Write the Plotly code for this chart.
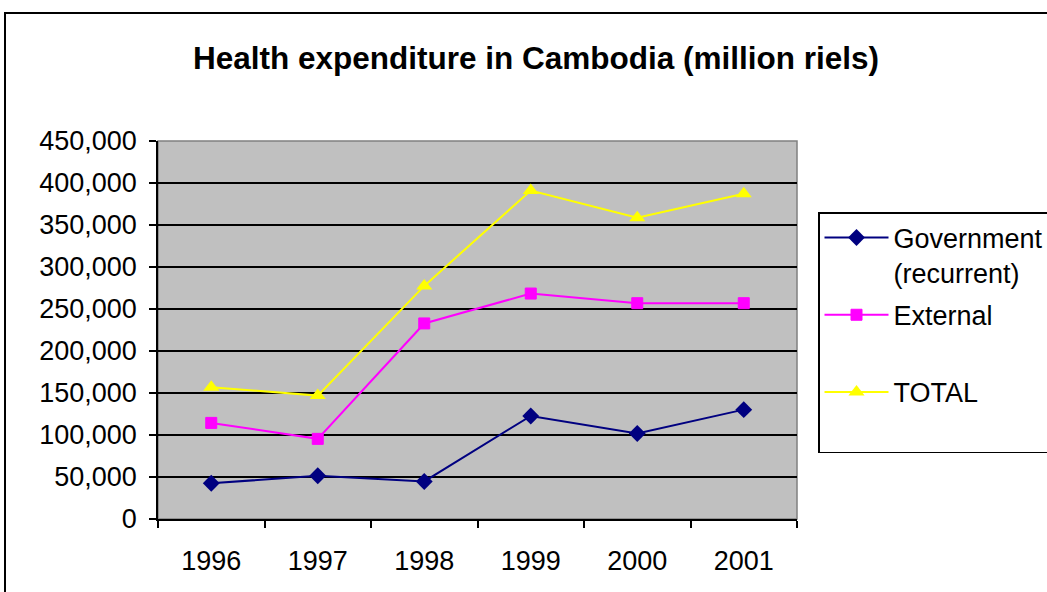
import plotly.graph_objects as go

years = ["1996", "1997", "1998", "1999", "2000", "2001"]
government = [42500, 51500, 44700, 122700, 101700, 130200]
external = [114400, 95400, 232800, 268400, 256900, 256900]
total = [156900, 146900, 277500, 391100, 358600, 387100]
y_ticks = [0, 50000, 100000, 150000, 200000, 250000, 300000, 350000, 400000, 450000]

W, H = 1047, 592
L, R, T, B = 158, 797, 141, 519
pw, ph = R - L, B - T

def px(x):
    return (x - L) / pw

def py(y):
    return (B - y) / ph

font = "Liberation Sans, Arial, sans-serif"

fig = go.Figure()
fig.add_trace(go.Scatter(x=years, y=government, name="Government<br>(recurrent)",
                         legendgroup="g1",
                         mode="lines+markers",
                         line=dict(color="#000080", width=2),
                         marker=dict(symbol="diamond", size=13, color="#000080")))
fig.add_trace(go.Scatter(x=years, y=external, name="External<br> ",
                         legendgroup="g2",
                         mode="lines+markers",
                         line=dict(color="#FF00FF", width=2),
                         marker=dict(symbol="square", size=11, color="#FF00FF",
                                     line=dict(color="#FF00FF", width=1))))
fig.add_trace(go.Scatter(x=years, y=total, name="TOTAL<br> ",
                         legendgroup="g3",
                         mode="lines+markers",
                         line=dict(color="#FFFF00", width=2),
                         marker=dict(symbol="triangle-up", size=14, color="#FFFF00")))

fig.update_layout(
    width=W, height=H,
    margin=dict(l=L, r=W - R, t=T, b=H - B, pad=0, autoexpand=False),
    paper_bgcolor="white",
    plot_bgcolor="#C0C0C0",
    font=dict(family=font, size=27, color="black"),
    title=dict(text="<b>Health expenditure in Cambodia (million riels)</b>",
               x=536 / W, xanchor="center", y=1 - 58 / H, yanchor="middle",
               font=dict(family=font, size=31.5, color="black")),
    showlegend=True,
    legend=dict(x=px(818), y=py(212), xanchor="left", yanchor="top",
                bgcolor="white", bordercolor="black", borderwidth=1.5,
                font=dict(family=font, size=27, color="black"),
                valign="top", itemwidth=64, tracegroupgap=4),
    xaxis=dict(type="category", range=[-0.5, 5.5], tickson="boundaries",
               ticks="outside", ticklen=7, tickwidth=1.5, tickcolor="black",
               showline=True, linecolor="black", linewidth=1.5,
               showgrid=False, zeroline=False, ticklabelstandoff=17,
               tickfont=dict(family=font, size=27, color="black")),
    yaxis=dict(range=[0, 450000], tickvals=y_ticks, tickformat=",d",
               ticks="outside", ticklen=7, tickwidth=1.5, tickcolor="black",
               showline=True, linecolor="black", linewidth=1.5,
               showgrid=True, gridcolor="black", gridwidth=1.5,
               zeroline=False, ticklabelstandoff=7,
               tickfont=dict(family=font, size=27, color="black")),
)

# plot area border (grey)
fig.add_shape(type="rect", xref="paper", yref="paper", x0=0, x1=1, y0=0, y1=1,
              line=dict(color="#808080", width=1.5), layer="below")
# outer chart border
fig.add_shape(type="rect", xref="paper", yref="paper",
              x0=px(5), x1=px(1080), y0=py(620), y1=py(13),
              line=dict(color="black", width=2))

fig.write_html("out.html")
